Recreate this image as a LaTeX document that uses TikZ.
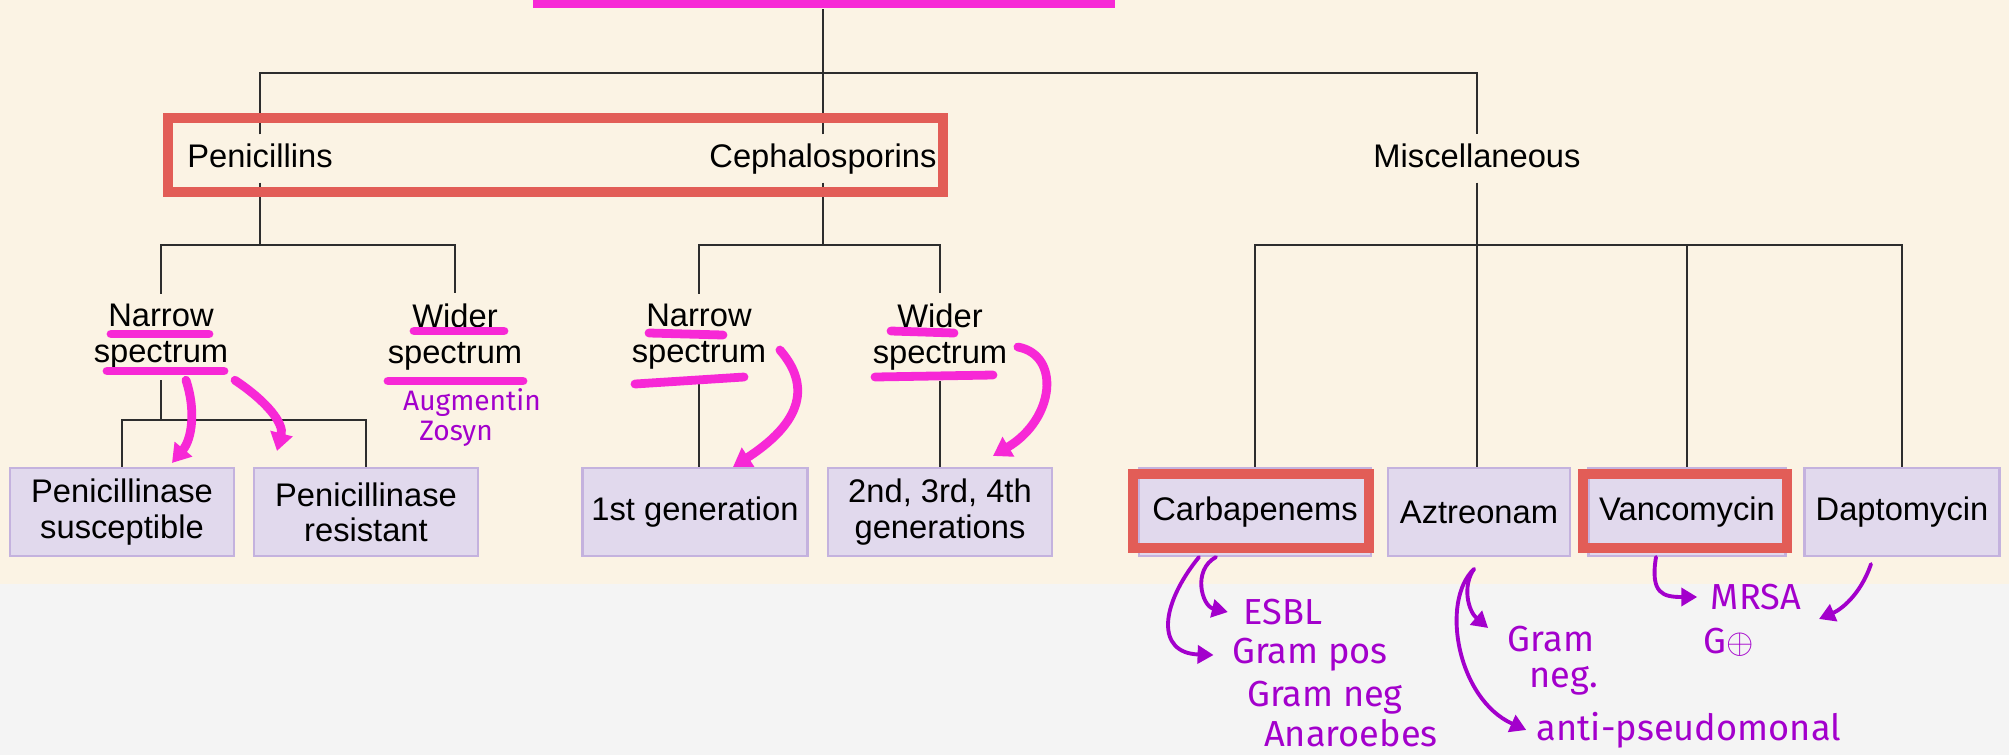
\documentclass[tikz,border=0pt]{standalone}
\usepackage{fontspec}
\setmainfont{Liberation Sans}
\newfontfamily\handfont{Fira Sans}
\usetikzlibrary{arrows.meta}

\definecolor{creambg}{RGB}{251,243,228}
\definecolor{graybg}{RGB}{244,244,244}
\definecolor{linegray}{RGB}{45,45,45}
\definecolor{lavfill}{RGB}{225,217,237}
\definecolor{lavline}{RGB}{196,178,222}
\definecolor{hlred}{RGB}{226,93,87}
\definecolor{hlpink}{RGB}{247,40,214}
\definecolor{penpurple}{RGB}{163,0,204}

\begin{document}
\begin{tikzpicture}[x=0.1mm, y=-0.1mm,
  conn/.style={draw=linegray, line width=0.6pt},
  lbl/.style={inner ysep=0.09cm, inner xsep=0pt, text height=0.23cm, text depth=0.06cm, font=\fontsize{9.3}{10.2}\selectfont},
  spec/.style={align=center, inner ysep=0.1cm, inner xsep=0pt, font=\fontsize{9.3}{10.2}\selectfont},
  drug/.style={draw=lavline, fill=lavfill, line width=0.6pt, align=center, minimum height=0.88cm, inner sep=0pt, font=\fontsize{9.3}{10}\selectfont},
  redbox/.style={draw=hlred, line width=2.8pt},
  hilite/.style={draw=hlpink, line width=2.5pt, line cap=round},
  pinkarr/.style={hilite, -{Triangle[length=1.8mm, width=2.2mm]}},
  penarr/.style={draw=penpurple, line width=1.1pt, line cap=round, -{Triangle[length=1.6mm, width=1.8mm]}},
  hand/.style={text=penpurple, inner sep=0pt, font=\handfont\fontsize{10.3}{12}\selectfont}]

% 背景
\fill[creambg] (0,0) rectangle (2009,584);
\fill[graybg] (0,584) rectangle (2009,755);
\useasboundingbox (0,0) rectangle (2009,755);
\fill[hlpink] (533,0) rectangle (1115,8);
\coordinate (top) at (823,9);

% 第一层
\node[lbl] (pen) at (260,158.5) {Penicillins};
\node[lbl] (ceph) at (823,158.5) {Cephalosporins};
\node[lbl] (misc) at (1477,158.5) {Miscellaneous};
\coordinate (j0) at (823,73);
\draw[conn] (top) -- (j0);
\draw[conn] (pen.north) |- (j0) -| (misc.north);
\draw[conn] (ceph.north) -- (j0);

% 第二层
\node[spec] (pnar) at (161,337) {Narrow\\spectrum};
\node[spec] (pwid) at (455,337) {Wider\\spectrum};
\node[spec] (cnar) at (699,337) {Narrow\\spectrum};
\node[spec] (cwid) at (940,337) {Wider\\spectrum};
\coordinate (j1) at (260,245);
\coordinate (j2) at (823,245);
\draw[conn] (pen.south) -- (j1);
\draw[conn] (pnar.north) |- (j1) -| (pwid.north);
\draw[conn] (ceph.south) -- (j2);
\draw[conn] (cnar.north) |- (j2) -| (cwid.north);

% 第三层
\node[drug, minimum width=2.24cm] (psus) at (122,512) {Penicillinase\\susceptible};
\node[drug, minimum width=2.24cm] (pres) at (366,512) {Penicillinase\\resistant};
\node[drug, minimum width=2.25cm] (gen1) at (695,512) {1st generation};
\node[drug, minimum width=2.24cm] (gen2) at (940,512) {2nd, 3rd, 4th\\generations};
\coordinate (j3) at (161,420);
\draw[conn] (pnar.south) -- (j3);
\draw[conn] (psus.north) |- (j3) -| (pres.north);
\draw[conn] (cnar.south) -- (cnar.south |- gen1.north);
\draw[conn] (cwid.south) -- (gen2.north);

\node[drug, minimum width=2.32cm] (carb) at (1255,512) {Carbapenems};
\node[drug, minimum width=1.82cm] (azt) at (1479,512) {Aztreonam};
\node[drug, minimum width=1.97cm] (vanc) at (1687,512) {Vancomycin};
\node[drug, minimum width=1.95cm] (dapt) at (1902,512) {Daptomycin};
\coordinate (j4) at (1477,245);
\draw[conn] (misc.south) -- (j4);
\draw[conn] (carb.north) |- (j4) -| (dapt.north);
\draw[conn] (j4) -- (j4 |- azt.north);
\draw[conn] (vanc.north) -- (vanc.north |- j4);

% 红框
\draw[redbox] (168,118) rectangle (943,192);
\draw[redbox] (1133,474) rectangle (1369,548);
\draw[redbox] (1583,474) rectangle (1787,548);

% 荧光笔
\draw[hilite] (111,334) -- (209,334);
\draw[hilite] (107,371) -- (224,371);
\draw[hilite] (414,331) -- (504,331);
\draw[hilite] (388,381) -- (523,381);
\draw[hilite] (649,333) -- (723,335);
\draw[hilite] (635,384) -- (744,377);
\draw[hilite] (891,331) -- (954,333);
\draw[hilite] (875,377) -- (993,375);

\draw[pinkarr] ([xshift=2.5mm]pnar.south) .. controls +(10,30) and +(20,-24) .. ([xshift=5mm,yshift=0.4mm]psus.north);
\draw[pinkarr] ([xshift=7.4mm]pnar.south) .. controls +(33,22) and +(7,-27) .. ([xshift=-8.9mm,yshift=1.6mm]pres.north);
\draw[pinkarr] ([xshift=1.3mm,yshift=-1.3mm]cnar.east) .. controls +(26,30) and +(77,-50) .. ([xshift=3.8mm]gen1.north);
\draw[pinkarr] ([xshift=1mm,yshift=-1mm]cwid.east) .. controls +(43,8) and +(62,-37) .. ([xshift=5.3mm,yshift=1.1mm]gen2.north);

% 手写批注
\node[hand, font=\handfont\fontsize{8}{9}\selectfont] (augm) at (472,403) {Augmentin};
\node[hand, font=\handfont\fontsize{8}{9}\selectfont] (zosyn) at (456,434) {Zosyn};

\node[hand] (esbl) at (1283,612) {ESBL};
\node[hand] (gpos) at (1310,655) {Gram pos};
\node[hand] (gneg) at (1325,698) {Gram neg};
\node[hand] (anaer) at (1351,733) {Anaroebes};
\node[hand] (gram) at (1551,639) {Gram};
\node[hand] (neg) at (1564,681) {neg.};
\node[hand] (antip) at (1689,730) {anti-pseudomonal};
\node[hand] (mrsa) at (1756,597) {MRSA};
\node[hand] (gplus) at (1729,642) {G$\oplus$};
\coordinate (dtip) at (1819,619);

\draw[penarr] ([xshift=-3.9mm]carb.south) .. controls +(-24,13) and +(-26,-6) .. ([xshift=-1.5mm]esbl.west);
\draw[penarr] ([xshift=-5.6mm]carb.south) .. controls +(-39,48) and +(-58,-2) .. ([xshift=-1.8mm]gpos.west);
\draw[penarr] ([xshift=-0.5mm,yshift=-1.2mm]azt.south) .. controls +(-12,17) and +(-20,-17) .. ([xshift=-1.9mm,yshift=1.1mm]gram.west);
\draw[penarr] ([xshift=-0.5mm,yshift=-1.2mm]azt.south) .. controls +(-34,32) and +(-69,-31) .. ([xshift=-1mm]antip.west);
\draw[penarr] ([xshift=-3.1mm]vanc.south) .. controls +(-6,37) and +(-34,0) .. ([xshift=-1.3mm]mrsa.west);
\draw[penarr] ([xshift=-3.1mm,yshift=-0.7mm]dapt.south) .. controls +(-11,32) and +(21,-9) .. (dtip);

\end{tikzpicture}
\end{document}
